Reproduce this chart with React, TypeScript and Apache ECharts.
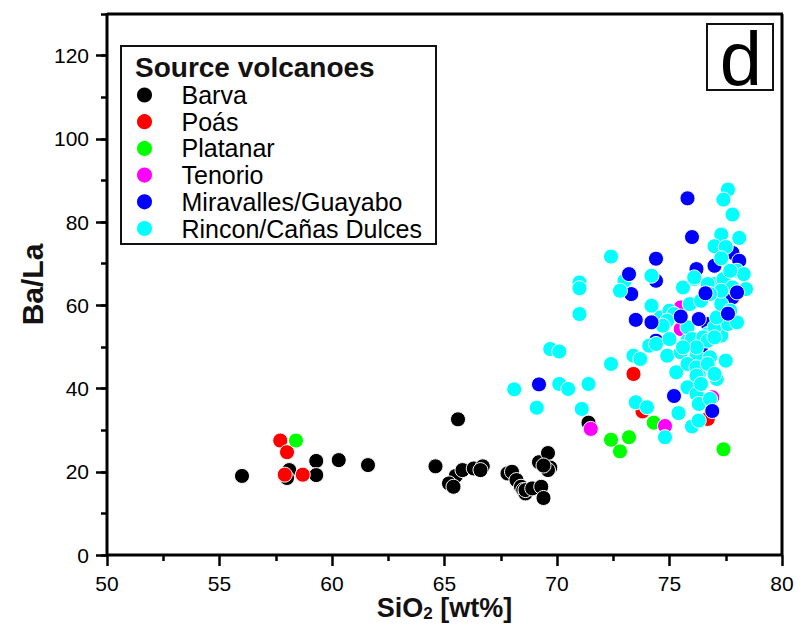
import React, { useEffect, useRef } from "react";
import * as echarts from "echarts";

const FONT = "'Liberation Sans', Arial, Helvetica, sans-serif";
const INK = "#141112";

const seriesNames = [
  "Barva",
  "Poás",
  "Platanar",
  "Tenorio",
  "Miravalles/Guayabo",
  "Rincon/Cañas Dulces",
];
const seriesColors = ["#000000", "#ff0000", "#00ff00", "#ff00ff", "#0000ff", "#00ffff"];

const barva: number[][] = [
  [56.0, 19.0], [58.1, 20.4], [58.0, 18.5], [59.3, 22.6], [59.3, 19.2], [60.3, 22.8],
  [61.6, 21.6], [64.6, 21.3], [65.6, 32.6], [65.5, 19.0], [65.2, 17.2], [65.4, 16.4],
  [65.8, 20.4], [66.3, 20.8], [66.7, 21.3], [66.6, 20.4], [67.8, 19.6], [68.0, 20.0],
  [68.2, 18.0], [68.4, 16.4], [68.5, 15.6], [68.6, 14.8], [68.6, 15.6], [68.9, 16.0],
  [69.3, 16.4], [69.4, 13.7], [69.2, 22.3], [69.6, 24.5], [69.7, 21.0], [69.6, 20.4],
  [69.4, 21.5], [71.4, 31.8],
];
const poas: number[][] = [
  [57.7, 27.5], [58.0, 24.7], [58.7, 19.3], [57.9, 19.3], [73.4, 43.5], [73.8, 34.5], [76.7, 32.7],
];
const platanar: number[][] = [
  [58.4, 27.5], [74.3, 31.8], [72.4, 27.7], [73.2, 28.3], [72.8, 24.9], [77.4, 25.4],
];
const tenorio: number[][] = [
  [71.5, 30.3], [74.8, 31.0], [76.9, 37.9], [75.5, 59.5], [75.5, 54.3],
];
const miravallesUnder: number[][] = [
  [77.8, 72.6], [78.1, 70.7], [77.0, 69.5], [76.2, 68.7], [76.7, 55.5], [76.4, 49.9],
  [74.4, 51.5], [77.8, 61.9], [73.3, 62.7], [74.4, 65.9],
];
const miravallesOver: number[][] = [
  [75.8, 85.7], [76.0, 76.4], [74.4, 71.2], [73.2, 67.5], [73.5, 56.5], [74.2, 55.9],
  [75.5, 57.3], [76.3, 56.7], [76.6, 62.9], [77.6, 58.0], [75.2, 38.2], [76.9, 34.6],
  [69.2, 41.0], [78.0, 63.1],
];
const rincon: number[][] = [
  [77.6, 87.8], [77.4, 85.4], [77.8, 81.8], [77.3, 77.0], [78.1, 76.2], [77.0, 74.2],
  [77.5, 74.0], [77.3, 71.3], [72.4, 71.7], [74.2, 67.1], [73.0, 65.9], [72.8, 63.5],
  [71.0, 65.5], [71.0, 64.1], [71.0, 57.9], [69.7, 49.5], [70.1, 48.9], [72.4, 45.9],
  [68.1, 39.8], [70.1, 41.1], [70.5, 39.9], [71.4, 41.1], [69.1, 35.4], [71.1, 35.1],
  [73.5, 36.7], [74.0, 35.5], [75.4, 34.1], [74.8, 28.3], [76.0, 30.9], [76.3, 32.3],
  [75.8, 40.3], [76.2, 38.7], [76.3, 36.3], [76.8, 37.5], [75.3, 43.9], [77.5, 46.7],
  [76.2, 44.5], [76.3, 43.4], [77.1, 42.3], [76.2, 47.9], [76.8, 47.5], [73.4, 47.9],
  [73.7, 47.1], [74.1, 50.3], [74.9, 47.9], [75.5, 48.7], [75.7, 50.7], [74.4, 50.7],
  [75.0, 51.9], [75.8, 51.5], [74.2, 59.9], [74.6, 57.1], [75.0, 58.7], [75.6, 64.3],
  [76.1, 66.3], [75.9, 60.3], [76.7, 53.1], [77.3, 52.7], [77.0, 54.7], [77.6, 55.5],
  [78.0, 55.9], [77.1, 57.1], [77.3, 60.3], [77.7, 58.7], [77.0, 65.1], [77.4, 66.3],
  [77.8, 64.3], [78.0, 68.3], [78.3, 67.5], [78.4, 63.9], [77.7, 68.3], [77.3, 63.5],
  [76.1, 66.7], [76.7, 65.1], [76.8, 62.7], [76.4, 61.1], [75.2, 57.9], [74.9, 56.3],
  [74.7, 55.1], [75.8, 54.7], [76.0, 51.9], [76.5, 52.3], [76.7, 51.5], [77.0, 52.3],
  [75.8, 45.9], [76.2, 45.1], [76.7, 45.9], [76.2, 43.1], [76.4, 41.1], [77.0, 43.5],
  [76.2, 49.9], [75.6, 49.9],
];

const xMin = 50;
const xMax = 80;
const xStep = 5;
const yMin = 0;
const yMax = 130;
const yLabelMax = 120;
const yLabelStep = 20;
const yMinorStep = 10;

export default function App() {
  const ref = useRef<HTMLDivElement>(null);

  useEffect(() => {
    if (!ref.current) return;
    const chart = echarts.init(ref.current, null, { renderer: "svg" });

    const gridLeft = 107;
    const gridRight = 20;
    const gridTop = 14;
    const gridBottom = 76;
    const W = 802;
    const H = 631;
    const plotH = H - gridTop - gridBottom;
    const labelGridTop = gridTop + ((yMax - yLabelMax) / (yMax - yMin)) * plotH;
    const tickSt = () => ({ color: "#000000", width: 2.5, opacity: 1 });

    const mk = (name: string, data: number[][], color: string, z: number) => ({
      type: "scatter",
      name,
      data,
      symbol: "circle",
      symbolSize: 15,
      xAxisIndex: 0,
      yAxisIndex: 0,
      z,
      itemStyle: { color, borderColor: "#ffffff", borderWidth: 1, opacity: 1 },
      emphasis: { disabled: true },
    });

    const frameLine = (x1: number, y1: number, x2: number, y2: number) => ({
      type: "line",
      shape: { x1, y1, x2, y2 },
      style: { stroke: "#000000", lineWidth: 3, opacity: 1 },
      z: 100,
      zlevel: 0,
    });

    const option: any = {
      animation: false,
      backgroundColor: "#ffffff",
      textStyle: { fontFamily: FONT },
      grid: [
        { left: gridLeft, right: gridRight, top: gridTop, bottom: gridBottom, show: false, containLabel: false, outerBoundsMode: "none" },
        { left: gridLeft, right: gridRight, top: labelGridTop, bottom: gridBottom, show: false, containLabel: false, outerBoundsMode: "none" },
      ],
      xAxis: [
        {
          type: "value",
          gridIndex: 0,
          min: xMin,
          max: xMax,
          interval: xStep,
          axisLine: { show: false },
          axisTick: { show: true, length: 11, lineStyle: tickSt() },
          minorTick: { show: true, splitNumber: 2, length: 6, lineStyle: tickSt() },
          splitLine: { show: false },
          axisLabel: { fontSize: 21, lineHeight: 20, color: "#000000", margin: 18, fontFamily: FONT },
          name: "{a|SiO}{b|2}{a| [wt%]}",
          nameLocation: "middle",
          nameGap: 38,
          nameMoveOverlap: false,
          nameTextStyle: {
            rich: {
              a: { fontSize: 27, fontWeight: "bold", color: INK, fontFamily: FONT },
              b: { fontSize: 17, fontWeight: "bold", color: INK, fontFamily: FONT, padding: [12, 0, 0, 0] },
            },
          },
        },
        { type: "value", gridIndex: 1, min: 0, max: 1, show: false },
      ],
      yAxis: [
        {
          type: "value",
          gridIndex: 0,
          min: yMin,
          max: yMax,
          interval: yMinorStep,
          axisLine: { show: false },
          axisTick: { show: true, length: 6, lineStyle: tickSt() },
          splitLine: { show: false },
          axisLabel: { show: false },
          name: "Ba/La",
          nameLocation: "middle",
          nameGap: 60,
          nameRotate: 90,
          nameMoveOverlap: false,
          nameTextStyle: { fontSize: 30, fontWeight: "bold", color: INK, fontFamily: FONT },
        },
        {
          type: "value",
          gridIndex: 1,
          min: yMin,
          max: yLabelMax,
          interval: yLabelStep,
          axisLine: { show: false },
          axisTick: { show: true, length: 11, lineStyle: tickSt() },
          splitLine: { show: false },
          axisLabel: { fontSize: 21, color: "#000000", margin: 18, fontFamily: FONT },
        },
      ],
      legend: {
        orient: "vertical",
        left: 135,
        top: 82.5,
        padding: 0,
        itemWidth: 64,
        itemHeight: 17,
        itemGap: 1.7,
        icon: "circle",
        selectedMode: false,
        data: seriesNames,
        textStyle: { fontSize: 25, color: "#000000", fontFamily: FONT },
      },
      graphic: [
        frameLine(gridLeft, gridTop, W - gridRight + 1, gridTop),
        frameLine(W - gridRight, gridTop, W - gridRight, H - gridBottom),
        frameLine(gridLeft, gridTop - 1, gridLeft, H - gridBottom + 1),
        frameLine(gridLeft - 1, H - gridBottom, W - gridRight + 1, H - gridBottom),
        {
          type: "rect",
          shape: { x: 121, y: 46, width: 315, height: 198 },
          style: { fill: "none", stroke: INK, lineWidth: 2 },
          z: 1,
        },
        {
          type: "text",
          x: 135,
          y: 67.5,
          style: {
            text: "Source volcanoes",
            fontSize: 28,
            fontWeight: "bold",
            fontFamily: FONT,
            fill: INK,
            verticalAlign: "middle",
          },
        },
        {
          type: "rect",
          shape: { x: 707, y: 24, width: 66, height: 66 },
          style: { fill: "none", stroke: INK, lineWidth: 2 },
        },
        {
          type: "text",
          x: 741,
          y: 58,
          style: {
            text: "d",
            fontSize: 76,
            fontFamily: FONT,
            fill: "#000000",
            align: "center",
            verticalAlign: "middle",
          },
        },
      ],
      series: [
        mk(seriesNames[0], barva, seriesColors[0], 2),
        mk(seriesNames[1], poas, seriesColors[1], 3),
        mk(seriesNames[2], platanar, seriesColors[2], 4),
        mk(seriesNames[3], tenorio, seriesColors[3], 5),
        mk(seriesNames[4], miravallesUnder, seriesColors[4], 6),
        mk(seriesNames[5], rincon, seriesColors[5], 7),
        mk(seriesNames[4], miravallesOver, seriesColors[4], 8),
      ],
    };

    chart.setOption(option);
    return () => chart.dispose();
  }, []);

  return <div ref={ref} style={{ width: 802, height: 631, margin: -8 }} />;
}
